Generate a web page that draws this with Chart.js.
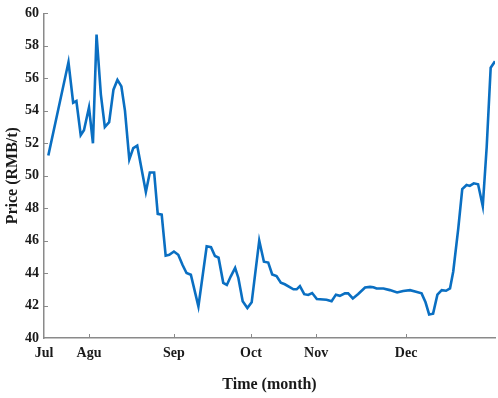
<!DOCTYPE html>
<html>
<head>
<meta charset="utf-8">
<script src="https://cdn.jsdelivr.net/npm/chart.js@4"></script>
<style>
  html, body { margin: 0; padding: 0; background: #fff; }
  #wrap { width: 498px; height: 398px; }
</style>
</head>
<body>
<div id="wrap"><canvas id="chart"></canvas></div>
<script>
// trading-day index since start of July, and price
const days = [1.2, 6.8, 8.1, 9.0, 10.2, 11.1, 12.5, 13.6, 14.6, 15.8, 16.9, 18.1, 19.3, 20.4, 21.5,
  22.5, 23.7, 24.8, 25.9, 28.3, 29.4, 30.6, 31.6, 32.7, 33.8, 34.8, 36.1, 37.3, 38.5, 39.6, 40.8,
  42.9, 45.2, 46.4, 47.5, 48.5, 49.8, 50.8, 51.9, 53.1, 54.0, 55.2, 56.5, 57.7, 59.8, 61.1, 62.3,
  63.4, 64.6, 65.8, 66.9, 69.3, 70.2, 71.1, 72.3, 73.4, 74.5, 75.8, 78.5, 79.9, 81.1, 82.2, 83.6,
  84.5, 85.8, 87.3, 89.2, 90.6, 91.5, 92.4, 94.3, 96.1, 98.1, 99.8, 101.7, 103.1, 104.9, 106.0,
  107.0, 108.1, 109.3, 110.5, 111.7, 112.8, 113.7, 115.1, 116.2, 117.4, 118.3, 119.4, 120.6,
  121.9, 123.0, 124.1, 125.3];
const prices = [51.25, 57.0, 54.5, 54.6, 52.5, 52.8, 54.2, 52.0, 58.7, 55.0, 53.0, 53.3, 55.3, 55.9, 55.5,
  54.0, 51.0, 51.7, 51.85, 49.0, 50.2, 50.2, 47.65, 47.6, 45.07, 45.13, 45.33, 45.13, 44.5, 44.0, 43.9,
  41.95, 45.65, 45.6, 45.05, 44.95, 43.4, 43.27, 43.8, 44.32, 43.7, 42.26, 41.85, 42.2, 46.0, 44.7, 44.65,
  43.92, 43.82, 43.41, 43.31, 43.0, 43.0, 43.2, 42.7, 42.65, 42.77, 42.4, 42.36, 42.26, 42.67, 42.6, 42.75,
  42.75, 42.44, 42.71, 43.11, 43.15, 43.13, 43.05, 43.05, 42.95, 42.81, 42.9, 42.95, 42.87, 42.75, 42.2,
  41.45, 41.5, 42.67, 42.95, 42.91, 43.05, 44.1, 46.75, 49.17, 49.43, 49.37, 49.53, 49.47,
  48.12, 51.8, 56.65, 57.05];

const monthLabels = ["Jul", "Agu", "Sep", "Oct", "Nov", "Dec"];
const monthDays = [0, 12.5, 36.1, 57.5, 75.6, 100.6];
const yTicks = [40, 42, 44, 46, 48, 50, 52, 54, 56, 58, 60];

const axisGray = "#8a8a8a";
const font = { family: "'Liberation Serif', 'Times New Roman', serif", weight: "bold" };

// short tick marks drawn inside the plot area, as in the original figure
const innerTicks = {
  id: "innerTicks",
  afterDraw(chart) {
    const { ctx, scales: { x, y } } = chart;
    ctx.save();
    ctx.strokeStyle = axisGray;
    ctx.lineWidth = 1;
    ctx.beginPath();
    monthDays.slice(1).forEach((d) => {
      const px = Math.round(x.getPixelForValue(d)) + 0.5;
      ctx.moveTo(px, y.bottom);
      ctx.lineTo(px, y.bottom - 4);
    });
    yTicks.slice(1).forEach((v) => {
      const py = Math.round(y.getPixelForValue(v)) + 0.5;
      ctx.moveTo(x.left, py);
      ctx.lineTo(x.left + 4, py);
    });
    ctx.stroke();
    ctx.restore();
  },
};

const ctx = document.getElementById("chart");

new Chart(ctx, {
  type: "line",
  data: {
    datasets: [{
      data: days.map((d, i) => ({ x: d, y: prices[i] })),
      borderColor: "#0a6fc2",
      borderWidth: 2.6,
      pointRadius: 0,
      tension: 0,
      fill: false,
    }],
  },
  options: {
    responsive: true,
    maintainAspectRatio: false,
    animation: false,
    layout: { padding: { top: 8, right: 3 } },
    plugins: { legend: { display: false }, tooltip: { enabled: false } },
    scales: {
      x: {
        type: "linear",
        min: 0,
        max: 125.3,
        afterBuildTicks: (axis) => { axis.ticks = monthDays.map((v) => ({ value: v })); },
        afterFit: (axis) => { axis.height = 60; },
        ticks: {
          autoSkip: false,
          maxRotation: 0,
          padding: 7,
          color: "#1a1a1a",
          font: { ...font, size: 14 },
          callback: (v) => monthLabels[monthDays.indexOf(v)],
        },
        grid: { display: false, drawTicks: false },
        border: { color: axisGray, width: 1.5 },
        title: {
          display: true,
          text: "Time (month)",
          color: "#1a1a1a",
          font: { ...font, size: 16 },
          padding: { top: 0, bottom: 4 },
          align: "center",
        },
      },
      y: {
        min: 40,
        max: 60,
        afterBuildTicks: (axis) => { axis.ticks = yTicks.map((v) => ({ value: v })); },
        afterFit: (axis) => { axis.width = 44; },
        ticks: {
          padding: 5,
          color: "#1a1a1a",
          font: { ...font, size: 14 },
        },
        grid: { display: false, drawTicks: false },
        border: { color: axisGray, width: 1.5 },
        title: {
          display: true,
          text: "Price (RMB/t)",
          color: "#1a1a1a",
          font: { ...font, size: 16 },
          padding: { top: 3, bottom: 2 },
        },
      },
    },
  },
  plugins: [innerTicks],
});
</script>
</body>
</html>
